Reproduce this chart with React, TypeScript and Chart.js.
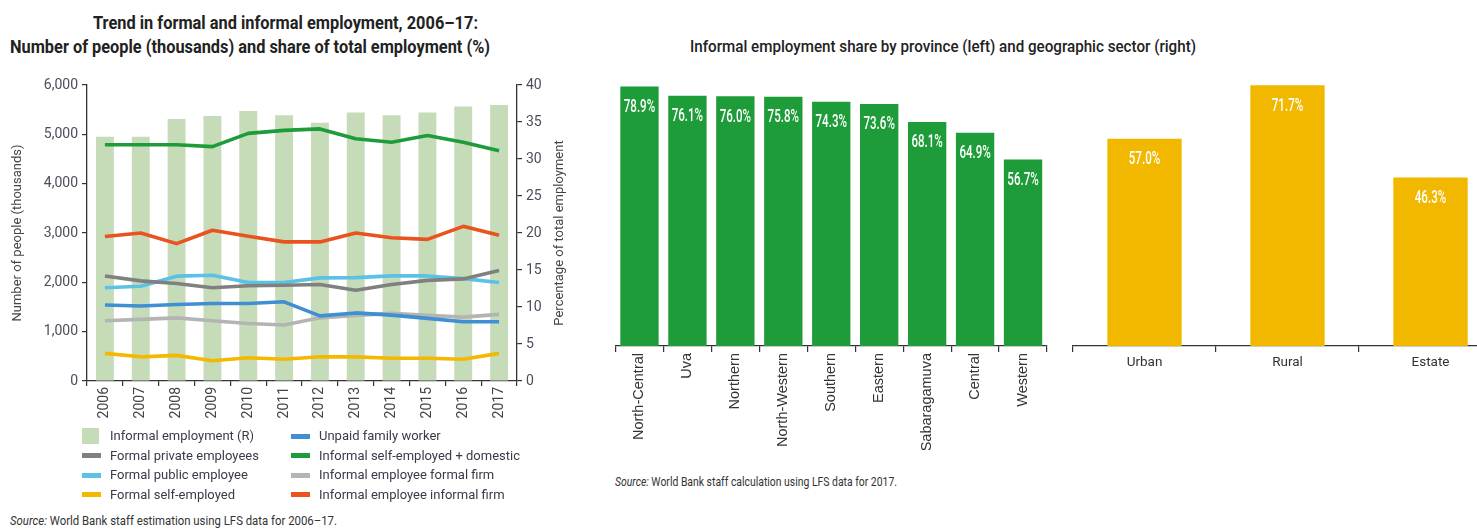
import React, { useEffect, useLayoutEffect, useRef } from "react";
import { Chart, registerables } from "chart.js";

Chart.register(...registerables);

// ---------- data ----------
const years = ["2006", "2007", "2008", "2009", "2010", "2011", "2012", "2013", "2014", "2015", "2016", "2017"];
const informalShare = [33.0, 33.0, 35.4, 35.8, 36.5, 35.9, 34.9, 36.3, 35.9, 36.3, 37.1, 37.3];
const formalPrivate = [2130, 2030, 1975, 1890, 1930, 1940, 1955, 1840, 1955, 2040, 2070, 2240];
const formalPublic = [1890, 1920, 2125, 2145, 1995, 1995, 2090, 2095, 2130, 2130, 2075, 1995];
const formalSelf = [560, 490, 520, 410, 470, 440, 490, 490, 460, 460, 440, 560];
const unpaidFamily = [1540, 1520, 1550, 1570, 1570, 1605, 1320, 1380, 1335, 1270, 1200, 1200];
const informalSelf = [4790, 4790, 4790, 4750, 5020, 5080, 5110, 4910, 4840, 4975, 4840, 4665];
const informalFormalFirm = [1220, 1250, 1280, 1220, 1165, 1135, 1280, 1330, 1370, 1330, 1295, 1350];
const informalInformalFirm = [2930, 3000, 2785, 3055, 2935, 2820, 2820, 3000, 2905, 2870, 3135, 2955];

const leftAxisMax = 6000;
const leftAxisStep = 1000;
const rightAxisMax = 40;
const rightAxisStep = 5;

const provinces = ["North-Central", "Uva", "Northern", "North-Western", "Southern", "Eastern", "Sabaragamuva", "Central", "Western"];
const provinceShare = [78.9, 76.1, 76.0, 75.8, 74.3, 73.6, 68.1, 64.9, 56.7];
const sectors = ["Urban", "Rural", "Estate"];
const sectorShare = [57.0, 71.7, 46.3];

const titleLeft1 = "Trend in formal and informal employment, 2006\u201317:";
const titleLeft2 = "Number of people (thousands) and share of total employment (%)";
const titleRight = "Informal employment share by province (left) and geographic sector (right)";
const sourceLeft = "World Bank staff estimation using LFS data for 2006\u201317.";
const sourceRight = "World Bank staff calculation using LFS data for 2017.";

// ---------- styles ----------
const SANS = 'Roboto, "Liberation Sans", Arial, sans-serif';
const ARIAL = '"Liberation Sans", Arial, sans-serif';
const AXIS = "#333333";

const C = {
  bar: "#c6dcb9",
  private: "#808080",
  public: "#5bc2e6",
  self: "#f4b800",
  unpaid: "#3f8fd2",
  informalSelf: "#1f9c3a",
  formalFirm: "#b4b4b4",
  informalFirm: "#e8531e",
  province: "#1f9c3a",
  sector: "#f2b800",
};

type LineSeries = { label: string; data: number[]; color: string };
const lineSeries: LineSeries[] = [
  { label: "Formal private employees", data: formalPrivate, color: C.private },
  { label: "Formal public employee", data: formalPublic, color: C.public },
  { label: "Formal self-employed", data: formalSelf, color: C.self },
  { label: "Unpaid family worker", data: unpaidFamily, color: C.unpaid },
  { label: "Informal employee formal firm", data: informalFormalFirm, color: C.formalFirm },
  { label: "Informal employee informal firm", data: informalInformalFirm, color: C.informalFirm },
  { label: "Informal self-employed + domestic", data: informalSelf, color: C.informalSelf },
];

// ---------- plugins ----------
const barLabelPlugin = {
  id: "barLabels",
  afterDatasetsDraw(chart: any, _args: any, opts: any) {
    if (!opts || !opts.enabled) return;
    const ctx = chart.ctx;
    const meta = chart.getDatasetMeta(0);
    const data = chart.data.datasets[0].data as number[];
    ctx.save();
    ctx.fillStyle = "#ffffff";
    ctx.font = `500 ${opts.size}px ${SANS}`;
    ctx.textAlign = "center";
    ctx.textBaseline = "middle";
    meta.data.forEach((el: any, i: number) => {
      ctx.save();
      ctx.translate(el.x, el.y + opts.offset);
      ctx.scale(opts.squeeze, 1);
      ctx.fillText(data[i].toFixed(1) + "%", 0, 0);
      ctx.restore();
    });
    ctx.restore();
  },
};

const rightTitlePlugin = {
  id: "rightTitle",
  afterDraw(chart: any, _args: any, opts: any) {
    if (!opts || !opts.text) return;
    const ctx = chart.ctx;
    const s = chart.scales[opts.scale];
    ctx.save();
    ctx.translate(s.right - opts.inset, (chart.chartArea.top + chart.chartArea.bottom) / 2);
    ctx.rotate(-Math.PI / 2);
    ctx.font = `${opts.size}px ${SANS}`;
    ctx.fillStyle = opts.color;
    ctx.textAlign = "center";
    ctx.textBaseline = "middle";
    ctx.fillText(opts.text, 0, 0);
    ctx.restore();
  },
};

// ---------- chart configs ----------
function trendConfig(): any {
  const lines = lineSeries.map((s, i) => ({
    type: "line",
    label: s.label,
    data: s.data,
    yAxisID: "y",
    borderColor: s.color,
    backgroundColor: s.color,
    borderWidth: 3.6,
    pointRadius: 0,
    tension: 0,
    borderJoinStyle: "round",
    order: i + 1,
  }));
  return {
    type: "bar",
    data: {
      labels: years,
      datasets: [
        {
          type: "bar",
          label: "Informal employment (R)",
          data: informalShare,
          yAxisID: "y1",
          backgroundColor: C.bar,
          barPercentage: 0.5,
          categoryPercentage: 1,
          order: 100,
        },
        ...lines,
      ],
    },
    plugins: [rightTitlePlugin],
    options: {
      animation: false,
      responsive: true,
      maintainAspectRatio: false,
      layout: { padding: { top: 15, left: 0, right: 0, bottom: 0 } },
      plugins: {
        legend: { display: false },
        tooltip: { enabled: false },
        rightTitle: { text: "Percentage of total employment", scale: "y1", inset: 20, size: 13, color: "#444" },
      },
      scales: {
        x: {
          offset: true,
          grid: { display: true, offset: true, drawOnChartArea: false, drawTicks: true, tickLength: 5, color: AXIS, lineWidth: 1.2 },
          border: { display: true, color: AXIS, width: 1.3 },
          ticks: { autoSkip: false, maxRotation: 90, minRotation: 90, padding: 1, color: "#444", font: { family: SANS, size: 14 } },
          afterFit: (s: any) => { s.height = 49; },
        },
        y: {
          position: "left",
          min: 0,
          max: leftAxisMax,
          grid: { display: true, drawOnChartArea: false, drawTicks: true, tickLength: 5, color: AXIS, lineWidth: 1.2 },
          border: { display: true, color: AXIS, width: 1.3 },
          ticks: {
            stepSize: leftAxisStep,
            padding: 4,
            color: "#4d4d5c",
            font: { family: SANS, size: 14 },
            callback: (v: any) => Number(v).toLocaleString("en-US"),
          },
          title: { display: true, text: "Number of people (thousands)", color: "#444", font: { family: SANS, size: 13 }, padding: { top: 10, bottom: 0 } },
          afterFit: (s: any) => { s.width = 87; },
        },
        y1: {
          position: "right",
          min: 0,
          max: rightAxisMax,
          grid: { display: true, drawOnChartArea: false, drawTicks: true, tickLength: 5, color: AXIS, lineWidth: 1.2 },
          border: { display: true, color: AXIS, width: 1.3 },
          ticks: { stepSize: rightAxisStep, padding: 4, color: "#4d4d5c", font: { family: SANS, size: 14 } },
          afterFit: (s: any) => { s.width = 63; },
        },
      },
    },
  };
}

function shareConfig(labels: string[], values: number[], color: string, max: number, barPct: number, rotated: boolean, pad: any): any {
  return {
    type: "bar",
    data: {
      labels,
      datasets: [
        {
          label: "Informal employment share",
          data: values,
          backgroundColor: color,
          barPercentage: barPct,
          categoryPercentage: 1,
        },
      ],
    },
    plugins: [barLabelPlugin],
    options: {
      animation: false,
      responsive: true,
      maintainAspectRatio: false,
      layout: { padding: pad },
      plugins: {
        legend: { display: false },
        tooltip: { enabled: false },
        barLabels: { enabled: true, size: 17.5, offset: 21, squeeze: 0.66 },
      },
      scales: {
        x: {
          offset: true,
          grid: { display: true, offset: true, drawOnChartArea: false, drawTicks: true, tickLength: 6, color: AXIS, lineWidth: 1.2 },
          border: { display: true, color: AXIS, width: 1.3 },
          ticks: rotated
            ? { autoSkip: false, maxRotation: 90, minRotation: 90, padding: 1, color: "#333", font: { family: ARIAL, size: 14.5 } }
            : { autoSkip: false, maxRotation: 0, minRotation: 0, padding: 3, color: "#333", font: { family: SANS, size: 13.5 } },
          afterFit: (s: any) => { s.height = 104; },
        },
        y: { display: false, min: 0, max },
      },
    },
  };
}

// ---------- components ----------
function ChartBox(props: { left: number; top: number; width: number; height: number; make: () => any }) {
  const ref = useRef<HTMLCanvasElement | null>(null);
  useEffect(() => {
    const chart = new Chart(ref.current as HTMLCanvasElement, props.make());
    return () => chart.destroy();
  }, []);
  return (
    <div style={{ position: "absolute", left: props.left, top: props.top, width: props.width, height: props.height }}>
      <canvas ref={ref} />
    </div>
  );
}

// Text condensed horizontally to a target width (the original uses a condensed face)
function FitText(props: { left: number; top: number; width: number; style: React.CSSProperties; children: React.ReactNode }) {
  const ref = useRef<HTMLDivElement | null>(null);
  useLayoutEffect(() => {
    const el = ref.current;
    if (!el) return;
    el.style.transform = "none";
    const w = el.getBoundingClientRect().width;
    if (w > 0) el.style.transform = `scaleX(${props.width / w})`;
  }, []);
  return (
    <div
      ref={ref}
      style={{
        position: "absolute",
        left: props.left,
        top: props.top,
        whiteSpace: "nowrap",
        transformOrigin: "0 0",
        ...props.style,
      }}
    >
      {props.children}
    </div>
  );
}

type LegendEntry = { label: string; color: string; kind: "bar" | "line" };
const legendCol1: LegendEntry[] = [
  { label: "Informal employment (R)", color: C.bar, kind: "bar" },
  { label: lineSeries[0].label, color: lineSeries[0].color, kind: "line" },
  { label: lineSeries[1].label, color: lineSeries[1].color, kind: "line" },
  { label: lineSeries[2].label, color: lineSeries[2].color, kind: "line" },
];
const legendCol2: LegendEntry[] = [
  { label: lineSeries[3].label, color: lineSeries[3].color, kind: "line" },
  { label: lineSeries[6].label, color: lineSeries[6].color, kind: "line" },
  { label: lineSeries[4].label, color: lineSeries[4].color, kind: "line" },
  { label: lineSeries[5].label, color: lineSeries[5].color, kind: "line" },
];

function Legend() {
  const rows = [436, 455.5, 475, 494.5];
  const cols = [
    { items: legendCol1, sw: 82, tx: 110 },
    { items: legendCol2, sw: 291, tx: 319 },
  ];
  return (
    <>
      {cols.map((c, ci) =>
        c.items.map((it, ri) => (
          <React.Fragment key={`${ci}-${ri}`}>
            <div
              style={{
                position: "absolute",
                left: c.sw,
                top: it.kind === "bar" ? rows[ri] - 8 : rows[ri] - 2.5,
                width: it.kind === "bar" ? 17 : 19,
                height: it.kind === "bar" ? 16 : 5,
                background: it.color,
              }}
            />
            <div
              style={{
                position: "absolute",
                left: c.tx,
                top: rows[ri] - 9,
                height: 18,
                lineHeight: "18px",
                fontFamily: SANS,
                fontSize: 13,
                color: "#3a3a48",
                whiteSpace: "nowrap",
              }}
            >
              {it.label}
            </div>
          </React.Fragment>
        ))
      )}
    </>
  );
}

export default function App() {
  const titleStyle: React.CSSProperties = { fontFamily: SANS, fontWeight: 700, fontSize: 18.5, color: "#222", lineHeight: "22px" };
  return (
    <div style={{ position: "fixed", left: 0, top: 0, width: 1477, height: 531, overflow: "hidden", background: "#fff" }}>
      {/* left titles */}
      <FitText left={93} top={12} width={385} style={titleStyle}>{titleLeft1}</FitText>
      <FitText left={10} top={36} width={480} style={titleStyle}>{titleLeft2}</FitText>

      <ChartBox left={0} top={70} width={580} height={360} make={trendConfig} />
      <Legend />
      <FitText left={10} top={512} width={327} style={{ fontFamily: SANS, fontSize: 13, color: "#333", lineHeight: "18px" }}>
        <i>Source:</i> {sourceLeft}
      </FitText>

      {/* right */}
      <FitText left={690} top={35} width={506} style={{ fontFamily: SANS, fontWeight: 500, fontSize: 17, color: "#222", lineHeight: "22px" }}>
        {titleRight}
      </FitText>
      <ChartBox
        left={600}
        top={70}
        width={460}
        height={380}
        make={() => shareConfig(provinces, provinceShare, C.province, 80, 0.8, true, { top: 13, left: 15.5, right: 13, bottom: 0 })}
      />
      <ChartBox
        left={1060}
        top={70}
        width={450}
        height={380}
        make={() => shareConfig(sectors, sectorShare, C.sector, 72.3, 0.52, false, { top: 13, left: 13, right: 8, bottom: 0 })}
      />
      <FitText left={615} top={474} width={282} style={{ fontFamily: SANS, fontSize: 13, color: "#333", lineHeight: "16px" }}>
        <i>Source:</i> {sourceRight}
      </FitText>
    </div>
  );
}
